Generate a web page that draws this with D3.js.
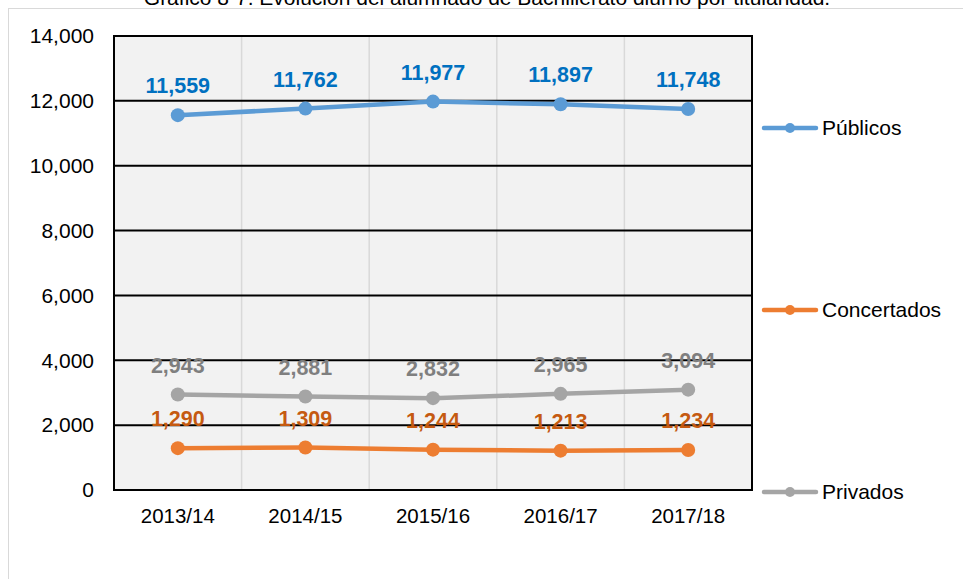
<!DOCTYPE html>
<html><head><meta charset="utf-8">
<script src="https://cdn.jsdelivr.net/npm/d3@7"></script>
<style>html,body{margin:0;padding:0;background:#fff;}svg{display:block;font-family:Arial,"Liberation Sans",sans-serif;}</style>
</head><body><svg id="c" width="963" height="579"></svg>
<script>
const categories = ["2013/14","2014/15","2015/16","2016/17","2017/18"];
const publicos = [11559,11762,11977,11897,11748];
const concertados = [1290,1309,1244,1213,1234];
const privados = [2943,2881,2832,2965,3094];
const yTicks = [0,2000,4000,6000,8000,10000,12000,14000];
const title = "Gráfico 8-7. Evolución del alumnado de Bachillerato diurno por titularidad.";

const series = [
  {name:"Públicos", values:publicos, line:"#5b9bd5", label:"#0070c0", legendY:128},
  {name:"Concertados", values:concertados, line:"#ed7d31", label:"#c55a11", legendY:310},
  {name:"Privados", values:privados, line:"#a5a5a5", label:"#7f7f7f", legendY:492}
];

const svg = d3.select("#c");
const L=114, R=752, T=36, B=490;
const FF = "Arial, 'Liberation Sans', sans-serif";

// outer frame
svg.append("rect").attr("x",8.5).attr("y",8.5).attr("width",1000).attr("height",700)
  .attr("fill","#fff").attr("stroke","#d9d9d9").attr("stroke-width",1);

svg.append("text").attr("x",487).attr("y",5).attr("text-anchor","middle")
  .attr("font-size",21).attr("fill","#000").text(title);

const x = d3.scaleBand().domain(categories).range([L,R]);
const y = d3.scaleLinear().domain([0,14000]).range([B,T]);

svg.append("rect").attr("x",L).attr("y",T).attr("width",R-L).attr("height",B-T).attr("fill","#f2f2f2");

// vertical grid at band boundaries
svg.append("g").selectAll("line").data(categories.slice(1)).join("line")
  .attr("x1",d=>x(d)).attr("x2",d=>x(d)).attr("y1",T).attr("y2",B)
  .attr("stroke","#d9d9d9").attr("stroke-width",1.5);

// horizontal grid
svg.append("g").selectAll("line").data(yTicks).join("line")
  .attr("x1",L).attr("x2",R).attr("y1",d=>y(d)).attr("y2",d=>y(d))
  .attr("stroke","#000").attr("stroke-width",2);

// border
svg.append("rect").attr("x",L).attr("y",T).attr("width",R-L).attr("height",B-T)
  .attr("fill","none").attr("stroke","#000").attr("stroke-width",2);

// y axis labels
const yAxis = d3.axisLeft(y).tickValues(yTicks).tickFormat(d3.format(",")).tickSize(0).tickPadding(20);
const ga = svg.append("g").attr("transform",`translate(${L},0)`).call(yAxis);
ga.select(".domain").remove();
ga.selectAll("text").attr("font-size",21).attr("fill","#000").attr("font-family",FF);

// x axis labels
const xAxis = d3.axisBottom(x).tickSize(0).tickPadding(18);
const gx = svg.append("g").attr("transform",`translate(0,${B})`).call(xAxis);
gx.select(".domain").remove();
gx.selectAll("text").attr("font-size",20.5).attr("fill","#000").attr("font-family",FF);

const cx = d=>x(d)+x.bandwidth()/2;
const line = d3.line().x((d,i)=>cx(categories[i])).y(d=>y(d));

series.forEach(s=>{
  const g = svg.append("g");
  g.append("path").attr("d",line(s.values)).attr("fill","none").attr("stroke",s.line).attr("stroke-width",4.5).attr("stroke-linejoin","round");
  g.selectAll("circle").data(s.values).join("circle")
    .attr("cx",(d,i)=>cx(categories[i])).attr("cy",d=>y(d)).attr("r",7).attr("fill",s.line);
  g.selectAll("text").data(s.values).join("text")
    .attr("x",(d,i)=>cx(categories[i])).attr("y",d=>y(d)-22).attr("text-anchor","middle")
    .attr("font-size",21.5).attr("font-weight","bold").attr("fill",s.label).text(d=>d3.format(",")(d));
  // legend
  const lg = svg.append("g");
  lg.append("line").attr("x1",764).attr("x2",816).attr("y1",s.legendY).attr("y2",s.legendY)
    .attr("stroke",s.line).attr("stroke-width",4.5).attr("stroke-linecap","round");
  lg.append("circle").attr("cx",790).attr("cy",s.legendY).attr("r",5).attr("fill",s.line);
  lg.append("text").attr("x",822).attr("y",s.legendY+7).attr("font-size",21).attr("fill","#000").attr("font-family",FF).text(s.name);
});
</script></body></html>
